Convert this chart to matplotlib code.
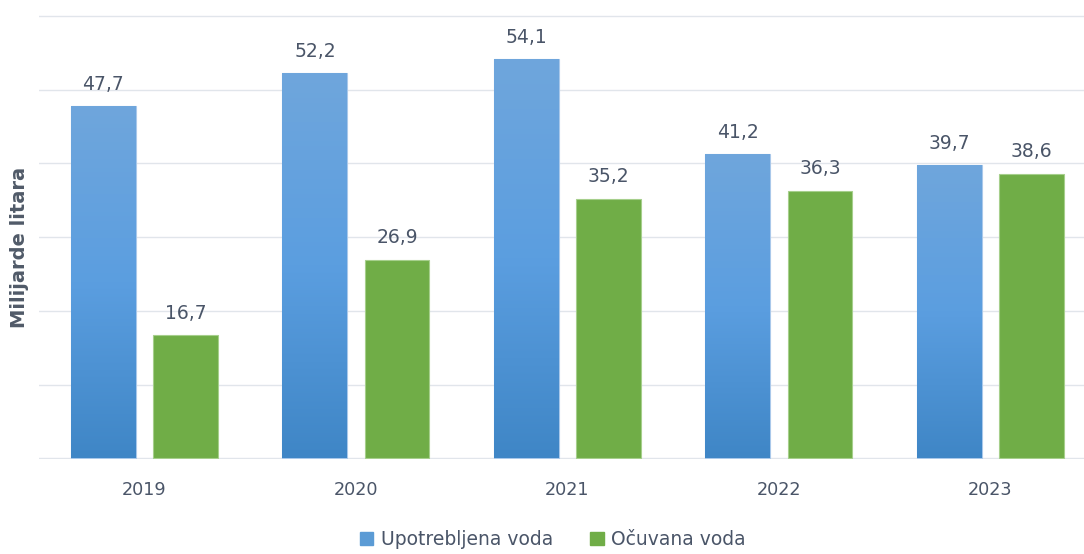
import numpy as np
import matplotlib
matplotlib.use("Agg")
import matplotlib.pyplot as plt
from matplotlib.colors import LinearSegmentedColormap
from matplotlib.patches import Patch

years = ["2019", "2020", "2021", "2022", "2023"]
used = [47.7, 52.2, 54.1, 41.2, 39.7]
saved = [16.7, 26.9, 35.2, 36.3, 38.6]
series_names = ["Upotrebljena voda", "Očuvana voda"]

plt.rcParams['font.family'] = ['DejaVu Sans']

fig = plt.figure(figsize=(10.84, 5.54), dpi=100)
ax = fig.add_axes([0.0357, 0.1715, 0.9756, 0.8014])

x = np.arange(len(years))
w = 0.307
off = 0.194
blue_bars = ax.bar(x - off, used, w, color="#5a9ad6", edgecolor="#a9c8ea", linewidth=0.8, zorder=2)
green_bars = ax.bar(x + off, saved, w, color="#70ad47", edgecolor="#a6cf8c", linewidth=0.8, zorder=2)

# vertical gradient on the blue bars (lighter at top)
cmap = LinearSegmentedColormap.from_list("bl", ["#3f86c6", "#5b9ee0", "#6fa6dc"])
grad = np.linspace(0, 1, 256).reshape(-1, 1)
for b in blue_bars:
    x0, h = b.get_x(), b.get_height()
    im = ax.imshow(grad, cmap=cmap, origin="lower", aspect="auto",
                   extent=[x0, x0 + b.get_width(), 0, h], zorder=2.5)
    im.set_clip_path(b)

txt = "#4a5568"
for bars, vals in [(blue_bars, used), (green_bars, saved)]:
    for b, v in zip(bars, vals):
        ax.annotate(f"{v:.1f}".replace(".", ","), (b.get_x() + b.get_width() / 2, v),
                    xytext=(0, 9), textcoords="offset points", ha="center", va="bottom",
                    fontsize=13.5, color=txt)

ax.set_xlim(-0.5, len(years) - 0.5)
ax.set_ylim(-0.1, 60.1)
ax.set_yticks(np.arange(0, 61, 10))
ax.yaxis.grid(True, color="#e1e5eb", linewidth=1.0)
ax.set_axisbelow(True)
ax.tick_params(axis="y", left=False, labelleft=False)
ax.tick_params(axis="x", length=0, pad=16, labelsize=12.7, labelcolor=txt)
ax.set_xticks(x)
ax.set_xticklabels(years)
for s in ax.spines.values():
    s.set_visible(False)

ax.set_ylabel("Milijarde litara", fontsize=14, fontweight="bold", color="#505a68")
ax.yaxis.set_label_coords(-0.009, 0.477)

handles = [Patch(color="#5b9bd5"), Patch(color="#70ad47")]
fig.legend(handles, series_names, loc="lower center", ncol=2, frameon=False,
           bbox_to_anchor=(0.51, -0.022), fontsize=13.5, labelcolor=txt,
           handlelength=0.7, handleheight=0.7, handletextpad=0.4, columnspacing=2.0)

fig.savefig("out.png", dpi=100)
